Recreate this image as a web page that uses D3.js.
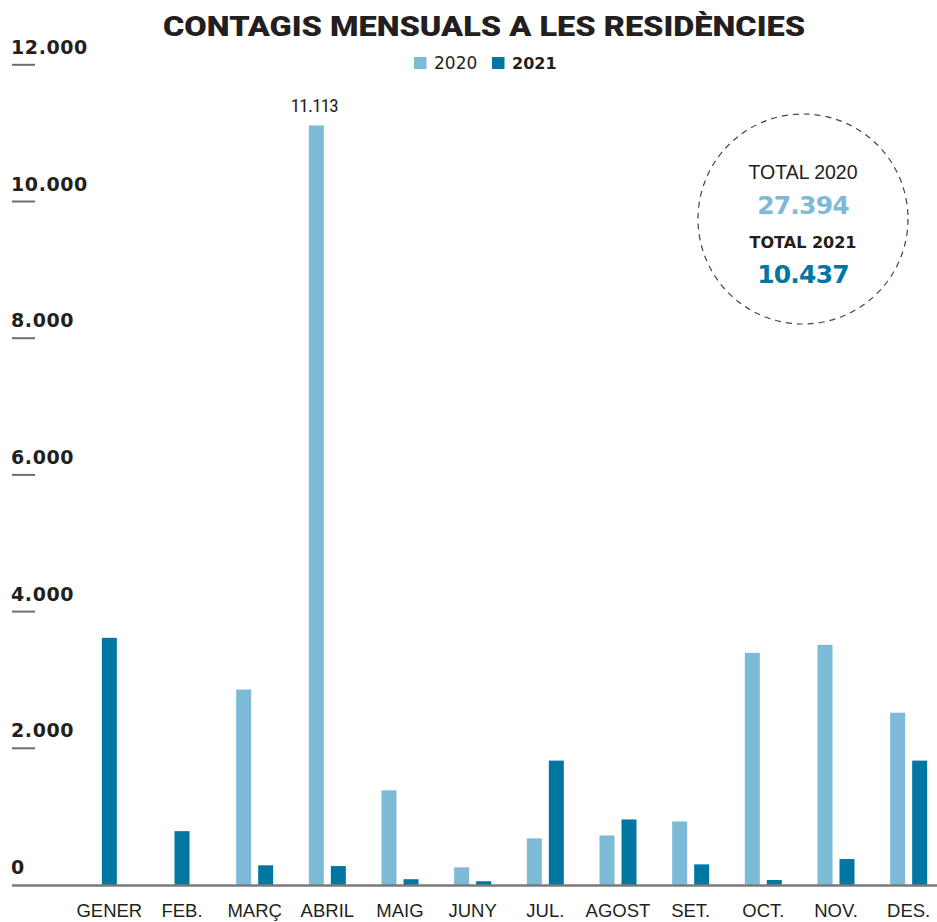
<!DOCTYPE html>
<html>
<head>
<meta charset="utf-8">
<script src="https://cdn.jsdelivr.net/npm/d3@7"></script>
<style>
  html, body { margin: 0; padding: 0; background: #fff; }
  svg { display: block; }
</style>
</head>
<body>
<svg id="chart" width="937" height="922"></svg>
<script>
// dades
const months = ['GENER', 'FEB.', 'MARÇ', 'ABRIL', 'MAIG', 'JUNY', 'JUL.', 'AGOST', 'SET.', 'OCT.', 'NOV.', 'DES.'];
const series = ['2020', '2021'];
const values2020 = [null, null, 2860, 11113, 1385, 258, 682, 725, 930, 3397, 3514, 2521];
const values2021 = [3616, 788, 288, 277, 85, 55, 1820, 959, 302, 73, 380, 1820];
const yTicks = [0, 2000, 4000, 6000, 8000, 10000, 12000];
const totals = [{ label: 'TOTAL 2020', value: 27394 }, { label: 'TOTAL 2021', value: 10437 }];

const LIGHT = '#7dbad8';
const DARK  = '#0077a3';
const INK   = '#231f20';
const NARROW = '"Liberation Sans Narrow", "Roboto Condensed", "Noto Sans", sans-serif';
const SANS   = '"Liberation Sans", Arial, sans-serif';
const BOLD   = '"DejaVu Sans", Lato, sans-serif';

const fmt = d3.formatLocale({ decimal: ',', thousands: '.', grouping: [3], currency: ['', '€'] }).format(',d');

const svg = d3.select('#chart');

// ── escales ─────────────────────────────────────────────
const x = d3.scaleBand().domain(months).range([73, 945]);
const xSub = d3.scaleBand().domain(series).range([0, 37]).paddingInner(7 / 22);
const y = d3.scaleLinear().domain([0, 12000]).range([885, 64.8]);

const rows = months.map((m, i) => ({ month: m, v: [values2020[i], values2021[i]] }));

// ── títol i llegenda ───────────────────────────────────
svg.append('text')
  .attr('x', 484).attr('y', 36)
  .attr('text-anchor', 'middle')
  .attr('font-family', 'Roboto, "DejaVu Sans", sans-serif')
  .attr('font-weight', 900)
  .attr('font-size', 28)
  .attr('textLength', 642)
  .attr('lengthAdjust', 'spacingAndGlyphs')
  .attr('fill', INK)
  .text('CONTAGIS MENSUALS A LES RESIDÈNCIES');

const legend = [
  { key: '2020', color: LIGHT, x: 414, weight: 400, size: 17 },
  { key: '2021', color: DARK,  x: 492, weight: 700, size: 16 },
];
legend.forEach(l => {
  svg.append('rect').attr('x', l.x).attr('y', 57).attr('width', 12.5).attr('height', 12).attr('fill', l.color);
  svg.append('text')
    .attr('x', l.x + 20).attr('y', 69)
    .attr('font-family', BOLD)
    .attr('font-size', l.size)
    .attr('font-weight', l.weight)
    .attr('fill', INK)
    .text(l.key);
});

// ── eix Y ──────────────────────────────────────────────
const yAxis = svg.append('g');
yTicks.forEach(t => {
  if (t > 0) {
    yAxis.append('line')
      .attr('x1', 12).attr('x2', 35)
      .attr('y1', y(t)).attr('y2', y(t))
      .attr('stroke', '#6d6d6d').attr('stroke-width', 2);
  }
  yAxis.append('text')
    .attr('x', 11).attr('y', y(t) - 11)
    .attr('font-family', BOLD)
    .attr('font-weight', 700)
    .attr('font-size', 19)
    .attr('letter-spacing', 0.6)
    .attr('fill', INK)
    .text(fmt(t));
});

// ── barres ─────────────────────────────────────────────
const colors = [LIGHT, DARK];
const groups = svg.append('g').selectAll('g')
  .data(rows).join('g')
  .attr('transform', d => `translate(${x(d.month) + x.bandwidth() / 2 - 18.5},0)`);

groups.each(function (d) {
  const g = d3.select(this);
  const present = d.v.map((v, i) => v != null ? i : -1).filter(i => i >= 0);
  present.forEach(i => {
    // si només hi ha una sèrie, la barra va centrada
    const bx = present.length === 1 ? 18.5 - xSub.bandwidth() / 2 : xSub(series[i]);
    g.append('rect')
      .attr('x', bx)
      .attr('y', y(d.v[i]))
      .attr('width', xSub.bandwidth())
      .attr('height', y(0) - y(d.v[i]))
      .attr('fill', colors[i]);
  });
});

// etiqueta del màxim
const maxIdx = d3.maxIndex(values2020);
svg.append('text')
  .attr('x', x(months[maxIdx]) + x.bandwidth() / 2 - 18.5 + xSub('2020') + xSub.bandwidth() / 2 - 2)
  .attr('y', y(values2020[maxIdx]) - 13)
  .attr('text-anchor', 'middle')
  .attr('font-family', NARROW)
  .attr('font-size', 19)
  .attr('letter-spacing', -0.8)
  .attr('fill', INK)
  .text(fmt(values2020[maxIdx]));

// ── eix X ──────────────────────────────────────────────
svg.append('line')
  .attr('x1', 12).attr('x2', 937)
  .attr('y1', y(0) + 0.5).attr('y2', y(0) + 0.5)
  .attr('stroke', '#7a7a7a').attr('stroke-width', 2.5);

svg.append('g').selectAll('text')
  .data(months).join('text')
  .attr('x', d => x(d) + x.bandwidth() / 2)
  .attr('y', 917)
  .attr('text-anchor', 'middle')
  .attr('font-family', SANS)
  .attr('font-size', 18.5)
  .attr('fill', INK)
  .text(d => d);

// ── cercle de totals ───────────────────────────────────
const cx = 803, cy = 219;
svg.append('circle')
  .attr('cx', cx).attr('cy', cy).attr('r', 105)
  .attr('fill', 'none')
  .attr('stroke', '#444').attr('stroke-width', 1.2)
  .attr('stroke-dasharray', '6 5');

totals.forEach((t, i) => {
  const top = 179 + i * 69;
  svg.append('text')
    .attr('x', cx).attr('y', top)
    .attr('text-anchor', 'middle')
    .attr('font-family', i === 0 ? SANS : BOLD)
    .attr('font-weight', i === 0 ? 400 : 700)
    .attr('font-size', i === 0 ? 19.5 : 16)
    .attr('fill', INK)
    .text(t.label);
  svg.append('text')
    .attr('x', cx).attr('y', top + 35)
    .attr('text-anchor', 'middle')
    .attr('font-family', BOLD)
    .attr('font-weight', 700)
    .attr('font-size', 25)
    .attr('letter-spacing', -0.8)
    .attr('fill', colors[i])
    .text(fmt(t.value));
});
</script>
</body>
</html>
